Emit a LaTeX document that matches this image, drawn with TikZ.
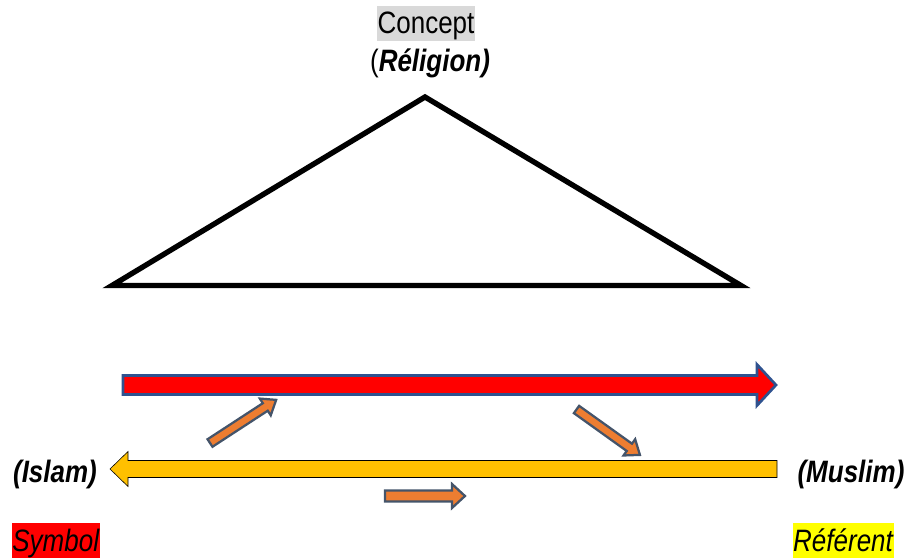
\documentclass[tikz,border=0pt]{standalone}
\usepackage{fontspec}
\setmainfont{Liberation Sans}[FakeStretch=0.84]

\definecolor{conceptgray}{HTML}{D9D9D9}
\definecolor{arrowred}{HTML}{FF0000}
\definecolor{redborder}{HTML}{2F528F}
\definecolor{arrowyellow}{HTML}{FFC000}
\definecolor{arroworange}{HTML}{ED7D31}
\definecolor{orangeborder}{HTML}{44546A}
\definecolor{refyellow}{HTML}{FFFF00}

% block arrow outline: length, shaft half width, head half width, head length
\newcommand{\blockarrow}[4]{(0,-#2) -- ({#1-#4},-#2) -- ({#1-#4},-#3) -- (#1,0)
  -- ({#1-#4},#3) -- ({#1-#4},#2) -- (0,#2) -- cycle}

\begin{document}
\begin{tikzpicture}[
  x=0.025cm, y=-0.025cm,
  lab/.style = {font=\fontsize{22}{26}\selectfont, inner xsep=0.5pt, inner ysep=0pt,
                text height=19.9pt, text depth=4.7pt, anchor=base},
  triangle/.style = {line width=3.8pt, miter limit=20},
  mainarrow/.style = {fill=arrowred, draw=redborder, line width=1.9pt},
  backarrow/.style = {fill=arrowyellow},
  smallarrow/.style = {fill=arroworange, draw=orangeborder, line width=1.6pt}
]

% Canvas: pixel grid of 908 x 558, y pointing down
\useasboundingbox (0,0) rectangle (908,558);

% Top labels
\node [lab, fill=conceptgray] (concept) at (426,34) {Concept};
\node [lab] (religion) at (430,72) {(\textbf{\textit{Réligion)}}};

% Triangle
\draw [triangle] (425,97) -- (741,285.5) -- (112,285.5) -- cycle;

% Long arrows
\draw [mainarrow, shift={(123,385)}] \blockarrow{653}{9.5}{20.5}{19};
\draw [backarrow, shift={(777,469)}, rotate=180] \blockarrow{667}{8.5}{17.5}{18};

% Small arrows
\draw [smallarrow, shift={(210,443)}, rotate=33.1] \blockarrow{79}{4.5}{10}{13};
\draw [smallarrow, shift={(576.5,409.5)}, rotate=-35.6] \blockarrow{78}{4.5}{10}{13};
\draw [smallarrow, shift={(385,496)}] \blockarrow{80}{5.5}{12}{13};

% Side labels
\node [lab] (islam) at (55,482) {\textbf{\textit{(Islam)}}};
\node [lab] (muslim) at (851,482) {\textbf{\textit{(Muslim)}}};

% Bottom labels
\node [lab, fill=arrowred] (symbol) at (56,551) {\textit{Symbol}};
\node [lab, fill=refyellow] (referent) at (843.5,551) {\textit{Référent}};

\end{tikzpicture}
\end{document}
